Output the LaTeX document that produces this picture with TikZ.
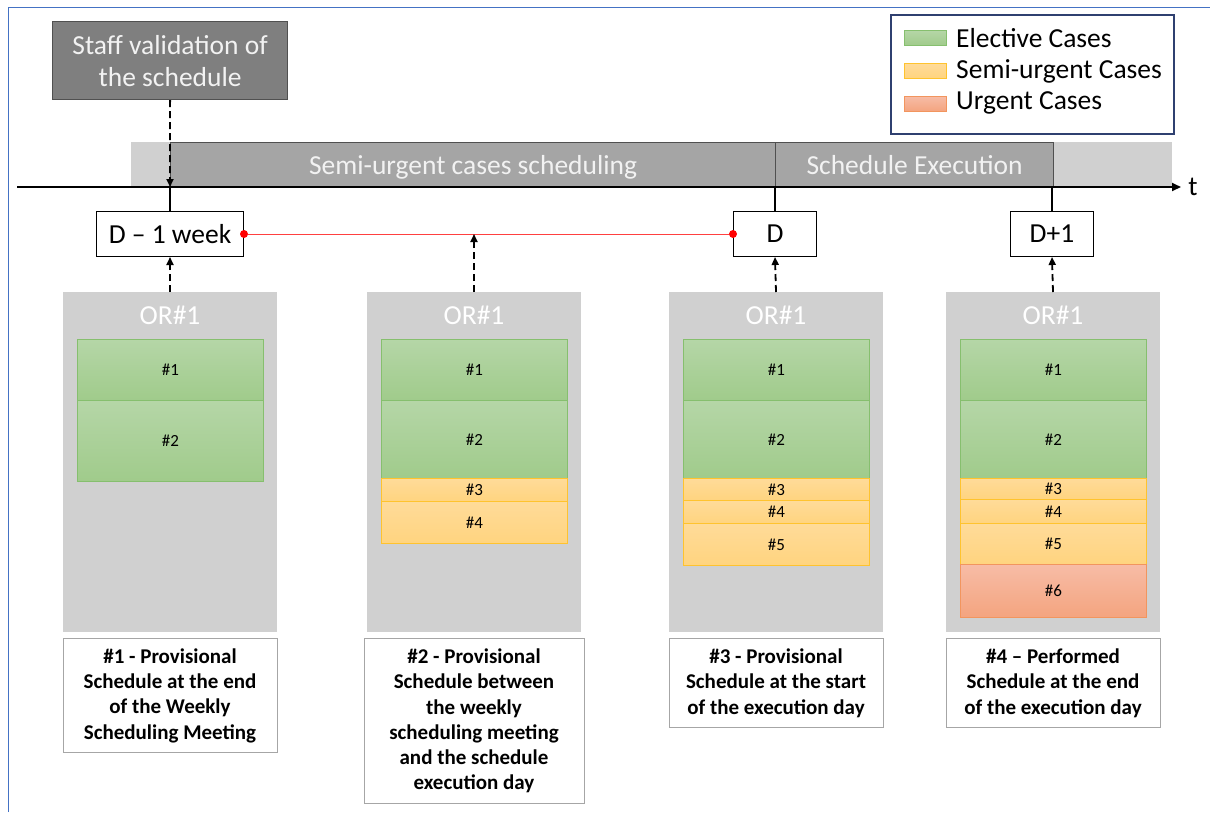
\documentclass[tikz,border=0pt]{standalone}
\usepackage{fontspec}
\setmainfont{Carlito}
\usetikzlibrary{arrows.meta}
\definecolor{frameblue}{HTML}{4472C4}
\definecolor{staffgray}{HTML}{7F7F7F}
\definecolor{bargray}{HTML}{A5A5A5}
\definecolor{bordgray}{HTML}{505050}
\definecolor{lightgray2}{HTML}{D0D0D0}
\definecolor{txtwhite}{HTML}{F2F2F2}
\definecolor{gtop}{HTML}{B5D6A7}
\definecolor{gbot}{HTML}{A0CB8B}
\definecolor{gbord}{HTML}{86BF6E}
\definecolor{ytop}{HTML}{FFDB99}
\definecolor{ybot}{HTML}{FFD47F}
\definecolor{ybord}{HTML}{FFC32E}
\definecolor{rtop}{HTML}{F7BCA6}
\definecolor{rbot}{HTML}{F4A47F}
\definecolor{rbord}{HTML}{F2955E}
\definecolor{legbord}{HTML}{2F4070}
\definecolor{labbord}{HTML}{A6A6A6}
\definecolor{redline}{HTML}{FF4040}
\begin{document}
\begin{tikzpicture}[x=1pt,y=-1pt,
  bigfont/.style={font=\fontsize{27.5}{32}\selectfont},
  smallfont/.style={font=\fontsize{17}{20}\selectfont},
  labfont/.style={font=\fontsize{21}{25.3}\selectfont\bfseries},
  darkbox/.style={draw=bordgray, line width=1.2pt, fill=staffgray, text=txtwhite, bigfont, align=center, inner sep=0pt},
  barbox/.style={draw=bordgray, line width=1.2pt, fill=bargray, text=txtwhite, bigfont, inner sep=0pt, text height=22pt, text depth=3pt},
  timebox/.style={draw=black, line width=1pt, fill=white, bigfont, inner sep=0pt, minimum height=45},
  orbox/.style={fill=lightgray2, inner sep=0pt, minimum width=214, minimum height=340, anchor=north},
  ortext/.style={text=white, bigfont},
  elective/.style={top color=gtop, bottom color=gbot, draw=gbord, line width=0.8pt, smallfont, inner sep=0pt, minimum width=186, anchor=north west},
  semiurg/.style={top color=ytop, bottom color=ybot, draw=ybord, line width=0.8pt, smallfont, inner sep=0pt, minimum width=186, anchor=north west},
  urgent/.style={top color=rtop, bottom color=rbot, draw=rbord, line width=0.8pt, smallfont, inner sep=0pt, minimum width=186, anchor=north west},
  labelbox/.style={draw=labbord, line width=1pt, fill=white, labfont, align=center, inner sep=0pt, anchor=north},
  dasharrow/.style={line width=1.8pt, dash pattern=on 7pt off 4pt, -{Triangle[length=8pt,width=7pt]}},
  solidlink/.style={line width=1.8pt},
  reddot/.style={circle, fill=red, inner sep=0pt, minimum size=8}
]
\useasboundingbox (0,0) rectangle (1210,812);
% outer frame
\draw[frameblue, line width=1pt] (8,812) -- (8,7) -- (1210,7);

% legend
\node[draw=legbord, line width=1.5pt, minimum width=283, minimum height=119, anchor=north west, inner sep=0pt] (legend) at (890,14) {};
\node[top color=gtop, bottom color=gbot, draw=gbord, line width=0.8pt, minimum width=42, minimum height=15, anchor=north west, inner sep=0pt] (lg1) at (904,30) {};
\node[top color=ytop, bottom color=ybot, draw=ybord, line width=0.8pt, minimum width=42, minimum height=15, anchor=north west, inner sep=0pt] (lg2) at (904,63) {};
\node[top color=rtop, bottom color=rbot, draw=rbord, line width=0.8pt, minimum width=42, minimum height=15, anchor=north west, inner sep=0pt] (lg3) at (904,96) {};
\node[bigfont, anchor=west, inner sep=0pt] (lt1) at (956,38) {Elective Cases};
\node[bigfont, anchor=west, inner sep=0pt] (lt2) at (956,71) {Semi-urgent Cases};
\node[bigfont, anchor=west, inner sep=0pt] (lt3) at (956,103) {Urgent Cases};

% staff validation
\node[darkbox, minimum width=235, minimum height=78, anchor=north west] (staff) at (52,21) {Staff validation of\\the schedule};

% bars
\fill[lightgray2] (131,142) rectangle (1172,187);
\node[barbox, minimum width=605, minimum height=45, anchor=north west] (semibar) at (170,142) {Semi-urgent cases scheduling};
\node[barbox, minimum width=278, minimum height=45, anchor=north west] (execbar) at (775,142) {Schedule Execution};

% axis
\coordinate (axL) at (17,187);
\coordinate (axR) at (1181,187);
\draw[line width=1.8pt, -{Triangle[length=9pt,width=8pt]}] (axL) -- (axR);
\node[bigfont, inner sep=0pt] (tlab) at (1193,187) {t};
\coordinate (ax1) at (170,187);
\coordinate (ax3) at (775,187);
\coordinate (ax4) at (1052,187);

% time boxes
\node[timebox, minimum width=147] (d1w) at (170,234) {D -- 1 week};
\node[timebox, minimum width=83] (dd) at (775,234) {D};
\node[timebox, minimum width=83] (dp1) at (1052,234) {D+1};

\draw[solidlink] (d1w.north) -- (ax1);
\draw[solidlink] (dd.north) -- (ax3);
\draw[solidlink] (dp1.north) -- (ax4);
\draw[dasharrow] (staff.south) -- (ax1);

% red line
\node[reddot] (rd1) at (d1w.east) {};
\node[reddot] (rd2) at (dd.west) {};
\draw[redline, line width=1pt] (rd1) -- (rd2);
\coordinate (mid) at (474,234);

% OR boxes
\node[orbox] (or1) at (170,292) {};
\node[orbox] (or2) at (474,292) {};
\node[orbox] (or3) at (776,292) {};
\node[orbox] (or4) at (1053,292) {};
\node[ortext] (ort1) at (170,315) {OR\#1};
\node[ortext] (ort2) at (474,315) {OR\#1};
\node[ortext] (ort3) at (776,315) {OR\#1};
\node[ortext] (ort4) at (1053,315) {OR\#1};

\draw[dasharrow] (or1.north) -- (d1w.south);
\draw[dasharrow] (or2.north) -- (mid);
\draw[dasharrow] (or3.north) -- (dd.south);
\draw[dasharrow] (or4.north) -- (dp1.south);

% OR 1 cases
\node[elective, minimum height=61] (a1) at (77,339) {\#1};
\node[elective, minimum height=81] (a2) at (77,400) {\#2};
% OR 2 cases
\node[elective, minimum height=61] (b1) at (381,339) {\#1};
\node[elective, minimum height=78] (b2) at (381,400) {\#2};
\node[semiurg, minimum height=23] (b3) at (381,478) {\#3};
\node[semiurg, minimum height=42] (b4) at (381,501) {\#4};
% OR 3 cases
\node[elective, minimum height=61] (c1) at (683,339) {\#1};
\node[elective, minimum height=78] (c2) at (683,400) {\#2};
\node[semiurg, minimum height=22] (c3) at (683,478) {\#3};
\node[semiurg, minimum height=23] (c4) at (683,500) {\#4};
\node[semiurg, minimum height=42] (c5) at (683,523) {\#5};
% OR 4 cases
\node[elective, minimum height=61] (e1) at (960,339) {\#1};
\node[elective, minimum height=78] (e2) at (960,400) {\#2};
\node[semiurg, minimum height=21] (e3) at (960,478) {\#3};
\node[semiurg, minimum height=24] (e4) at (960,499) {\#4};
\node[semiurg, minimum height=41] (e5) at (960,523) {\#5};
\node[urgent, minimum height=53] (e6) at (960,564) {\#6};

% labels
\node[labelbox, minimum width=214, minimum height=114] (lab1) at (170,638) {\#1 - Provisional\\Schedule at the end\\of the Weekly\\Scheduling Meeting};
\node[labelbox, minimum width=220, minimum height=165] (lab2) at (474,638) {\#2 - Provisional\\Schedule between\\the weekly\\scheduling meeting\\and the schedule\\execution day};
\node[labelbox, minimum width=214, minimum height=89] (lab3) at (776,638) {\#3 - Provisional\\Schedule at the start\\of the execution day};
\node[labelbox, minimum width=214, minimum height=89] (lab4) at (1053,638) {\#4 -- Performed\\Schedule at the end\\of the execution day};
\end{tikzpicture}
\end{document}
